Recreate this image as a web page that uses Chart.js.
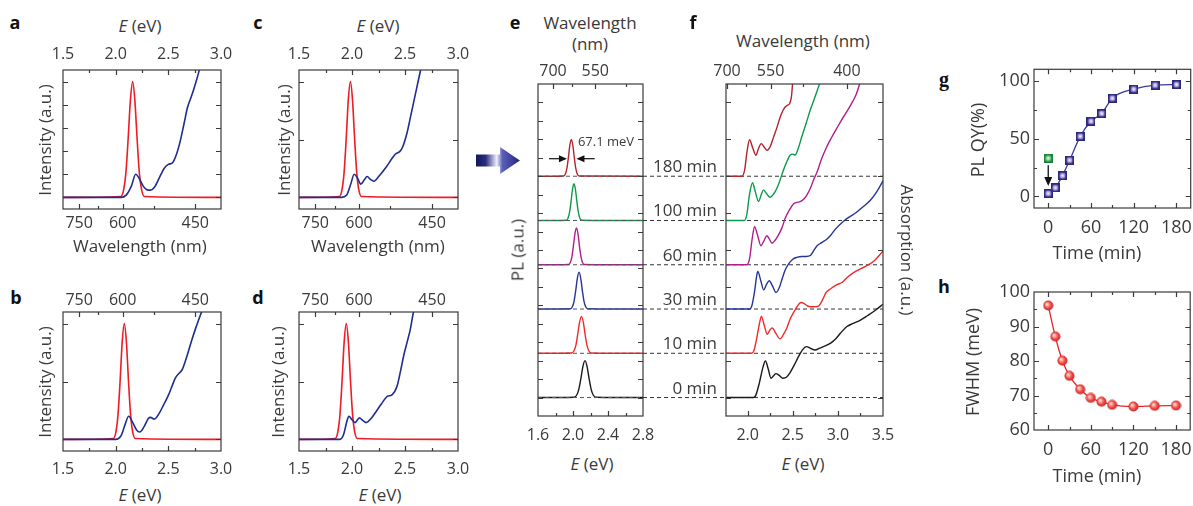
<!DOCTYPE html>
<html>
<head>
<meta charset="utf-8">
<title>PL and absorption spectra</title>
<script src="https://cdn.jsdelivr.net/npm/chart.js@4.4.1/dist/chart.umd.min.js"></script>
<style>
  html, body { margin: 0; padding: 0; background: #fff; }
  body { position: relative; width: 1193px; height: 506px; overflow: hidden;
         font-family: 'Open Sans', 'DejaVu Sans', sans-serif; color: #3a3a3a; }
  canvas { position: absolute; }
  .lbl { position: absolute; white-space: nowrap; line-height: 1; z-index: 2; }
  .vrl { writing-mode: vertical-rl; }
  #deco { position: absolute; left: 0; top: 0; }
</style>
</head>
<body>
<svg id="deco" width="1193" height="506">
  <defs>
    <linearGradient id="bigArrow" x1="0" x2="1" y1="0" y2="0">
      <stop offset="0" stop-color="#15165a"/>
      <stop offset="0.22" stop-color="#2a2c80"/>
      <stop offset="0.47" stop-color="#eef0fb"/>
      <stop offset="0.6" stop-color="#5a5fb8"/>
      <stop offset="1" stop-color="#23267f"/>
    </linearGradient>
  </defs>
  <polygon points="476,154.5 500,154.5 500,147 520,160.5 500,174 500,166.5 476,166.5" fill="url(#bigArrow)"/>
</svg>
<script>
// ====== DATA ======
// panels a-d: energy axis, wavelength axis, intensity ticks
const E_MAJOR = [1.5, 2.0, 2.5, 3.0];
const E_MINOR = [1.75, 2.25, 2.75];
const WL_MAJOR = [750, 600, 450];
const WL_MINOR = [675, 525];
const INT_TICKS_A = [0, 0.2, 0.4, 0.6, 0.8, 1.0];
const INT_TICKS = [0, 0.5, 1.0];

// normalised PL line shape shared by a-d
const PL_NORM = [0, 0.008, 0.063, 0.21, 0.5, 0.84, 1, 0.84, 0.5, 0.21, 0.063, 0.008, 0];
const A_PL_E = [1.5, 2.049, 2.075, 2.097, 2.118, 2.14, 2.161, 2.182, 2.204, 2.225, 2.247, 2.273, 3.0];
const B_PL_E = [1.5, 1.978, 2.002, 2.022, 2.042, 2.062, 2.082, 2.102, 2.122, 2.142, 2.162, 2.186, 3.0];
const C_PL_E = [1.5, 1.881, 1.905, 1.925, 1.945, 1.965, 1.985, 2.005, 2.025, 2.045, 2.065, 2.089, 3.0];
const D_PL_E = [1.5, 1.842, 1.866, 1.886, 1.906, 1.926, 1.946, 1.966, 1.986, 2.006, 2.026, 2.05, 3.0];

const A_ABS_E = [1.5, 2.05, 2.1, 2.15, 2.19, 2.22, 2.26, 2.3, 2.33, 2.37, 2.42, 2.46, 2.5, 2.54, 2.58, 2.614, 2.65, 2.68, 2.71, 2.74, 2.77, 2.8];
const A_ABS_Y = [0, 0, 0.02, 0.1, 0.2, 0.17, 0.1, 0.065, 0.063, 0.09, 0.18, 0.25, 0.285, 0.3, 0.38, 0.49, 0.64, 0.77, 0.85, 0.93, 1.02, 1.12];
const B_ABS_E = [1.5, 2.0, 2.05, 2.09, 2.123, 2.16, 2.2, 2.228, 2.27, 2.31, 2.33, 2.367, 2.41, 2.456, 2.5, 2.535, 2.566, 2.6, 2.63, 2.677, 2.72, 2.756, 2.82, 2.85];
const B_ABS_Y = [0, 0, 0.03, 0.13, 0.2, 0.15, 0.08, 0.064, 0.11, 0.18, 0.19, 0.175, 0.22, 0.3, 0.38, 0.46, 0.53, 0.57, 0.6, 0.72, 0.85, 0.95, 1.11, 1.17];
const C_ABS_E = [1.5, 1.9, 1.95, 1.99, 2.02, 2.05, 2.083, 2.115, 2.143, 2.175, 2.206, 2.26, 2.325, 2.38, 2.41, 2.45, 2.48, 2.52, 2.546, 2.593, 2.64, 2.66];
const C_ABS_Y = [0, 0, 0.02, 0.12, 0.2, 0.17, 0.115, 0.15, 0.18, 0.155, 0.14, 0.19, 0.265, 0.34, 0.375, 0.395, 0.44, 0.56, 0.67, 0.87, 1.07, 1.15];
const D_ABS_E = [1.5, 1.886, 1.92, 1.95, 1.97, 2.0, 2.028, 2.07, 2.1, 2.133, 2.18, 2.234, 2.28, 2.33, 2.377, 2.424, 2.46, 2.487, 2.52, 2.55, 2.58, 2.6];
const D_ABS_Y = [0, 0, 0.04, 0.15, 0.2, 0.17, 0.145, 0.186, 0.165, 0.145, 0.18, 0.25, 0.31, 0.37, 0.385, 0.456, 0.6, 0.72, 0.84, 0.95, 1.1, 1.16];

// panels e-f: time series, stacked with offsets
const TIME_LABELS = ['0 min', '10 min', '30 min', '60 min', '100 min', '180 min'];
const OFFSETS = [0, 2.4, 4.8, 7.2, 9.6, 12];
const TIME_COLORS = ['#1a1a1a', '#ee2a2a', '#25359a', '#b01e8e', '#0c9a4a', '#b3242b'];

const E_E_MAJOR = [1.6, 2.0, 2.4, 2.8];
const E_E_MINOR = [1.8, 2.2, 2.6];
const E_WL_MAJOR = [700, 550];
const E_WL_MINOR = [625, 475];
const E_Y_TICKS = [0, 1, 2, 3, 4, 5, 6, 7, 8, 9, 10, 11, 12, 13, 14, 15, 16];

const PL_SHAPE = [0, 0.016, 0.125, 0.42, 1.0, 1.68, 2.0, 1.68, 1.0, 0.42, 0.125, 0.016, 0];
const PL_E_0   = [1.6, 2.012, 2.041, 2.065, 2.089, 2.113, 2.137, 2.161, 2.185, 2.209, 2.233, 2.262, 2.8];
const PL_E_10  = [1.6, 1.984, 2.01, 2.032, 2.053, 2.075, 2.096, 2.118, 2.139, 2.161, 2.182, 2.208, 2.8];
const PL_E_30  = [1.6, 1.97, 1.993, 2.012, 2.031, 2.05, 2.069, 2.088, 2.107, 2.126, 2.145, 2.168, 2.8];
const PL_E_60  = [1.6, 1.948, 1.969, 1.987, 2.004, 2.022, 2.039, 2.057, 2.074, 2.092, 2.109, 2.13, 2.8];
const PL_E_100 = [1.6, 1.923, 1.943, 1.96, 1.977, 1.994, 2.011, 2.028, 2.045, 2.062, 2.079, 2.099, 2.8];
const PL_E_180 = [1.6, 1.893, 1.913, 1.93, 1.947, 1.964, 1.981, 1.998, 2.015, 2.032, 2.049, 2.069, 2.8];
const FWHM_Y = 12.95;
const FWHM_ARROWS = [[1.726, 1.931], [2.248, 2.039]];

const F_E_MAJOR = [2.0, 2.5, 3.0, 3.5];
const F_E_MINOR = [2.25, 2.75, 3.25];
const F_WL_MAJOR = [700, 550, 400];
const F_WL_MINOR = [625, 475];
const F_Y_TICKS = [0, 2, 4, 6, 8, 10, 12, 14, 16];

const ABS_E_0 = [1.76, 2.065, 2.09, 2.13, 2.17, 2.197, 2.228, 2.258, 2.29, 2.313, 2.35, 2.39, 2.43, 2.47, 2.52, 2.563, 2.61, 2.65, 2.7, 2.745, 2.8, 2.86, 2.92, 2.98, 3.03, 3.1, 3.17, 3.25, 3.33, 3.42, 3.5];
const ABS_Y_0 = [0, 0, 0.12, 0.8, 1.65, 1.98, 1.55, 1.05, 1.2, 1.3, 1.2, 1.05, 1.1, 1.35, 1.8, 2.22, 2.6, 2.76, 2.66, 2.58, 2.68, 2.8, 2.95, 3.2, 3.5, 3.85, 4.02, 4.2, 4.45, 4.75, 5.06];
const ABS_E_10 = [1.76, 2.045, 2.07, 2.1, 2.13, 2.152, 2.185, 2.217, 2.245, 2.272, 2.31, 2.36, 2.4, 2.435, 2.47, 2.508, 2.55, 2.59, 2.63, 2.67, 2.73, 2.785, 2.83, 2.87, 2.92, 2.99, 3.05, 3.1, 3.2, 3.3, 3.4, 3.5];
const ABS_Y_10 = [0, 0, 0.15, 0.8, 1.6, 2.0, 1.5, 1.03, 1.25, 1.38, 1.1, 0.78, 1.05, 1.39, 1.85, 2.2, 2.55, 2.75, 2.68, 2.55, 2.52, 2.56, 2.9, 3.3, 3.5, 3.72, 3.85, 4.1, 4.45, 4.7, 5.0, 5.55];
const ABS_E_30 = [1.76, 2.02, 2.045, 2.075, 2.1, 2.112, 2.145, 2.178, 2.21, 2.24, 2.275, 2.316, 2.35, 2.38, 2.415, 2.452, 2.5, 2.545, 2.6, 2.65, 2.695, 2.73, 2.767, 2.82, 2.877, 2.92, 2.97, 3.06, 3.13, 3.2, 3.28, 3.36, 3.43, 3.5];
const ABS_Y_30 = [0, 0, 0.15, 0.9, 1.8, 2.04, 1.55, 1.04, 1.35, 1.53, 1.25, 0.9, 1.15, 1.6, 2.1, 2.43, 2.7, 2.8, 2.85, 2.85, 2.9, 3.15, 3.42, 3.6, 3.78, 4.0, 4.32, 4.75, 5.0, 5.22, 5.55, 5.9, 6.35, 6.95];
const ABS_E_60 = [1.76, 1.99, 2.02, 2.05, 2.076, 2.11, 2.147, 2.18, 2.213, 2.24, 2.269, 2.3, 2.342, 2.38, 2.416, 2.46, 2.508, 2.545, 2.582, 2.62, 2.656, 2.7, 2.73, 2.767, 2.82, 2.877, 2.93, 2.988, 3.06, 3.135, 3.2, 3.26];
const ABS_Y_60 = [0, 0, 0.3, 1.4, 2.07, 1.6, 1.03, 1.3, 1.57, 1.4, 1.17, 1.3, 1.62, 2.0, 2.52, 2.95, 3.3, 3.38, 3.42, 3.55, 3.78, 4.2, 4.6, 5.0, 5.75, 6.4, 6.9, 7.4, 8.0, 8.6, 9.2, 10.1];
const ABS_E_100 = [1.76, 1.962, 1.99, 2.02, 2.054, 2.085, 2.121, 2.15, 2.176, 2.21, 2.25, 2.29, 2.324, 2.36, 2.397, 2.44, 2.471, 2.5, 2.527, 2.56, 2.6, 2.65, 2.693, 2.75, 2.803, 2.82];
const ABS_Y_100 = [0, 0, 0.3, 1.4, 2.05, 1.55, 1.03, 1.4, 1.66, 1.45, 1.26, 1.45, 1.75, 2.2, 2.74, 3.25, 3.55, 3.6, 3.55, 3.9, 4.54, 5.3, 5.98, 6.75, 7.5, 7.75];
const ABS_E_180 = [1.76, 1.937, 1.965, 1.995, 2.021, 2.055, 2.092, 2.12, 2.15, 2.18, 2.213, 2.25, 2.287, 2.325, 2.36, 2.39, 2.416, 2.44, 2.464, 2.485, 2.5, 2.52];
const ABS_Y_180 = [0, 0, 0.3, 1.4, 1.98, 1.55, 1.14, 1.5, 1.77, 1.6, 1.41, 1.6, 2.12, 2.65, 3.2, 3.55, 3.75, 3.85, 3.93, 4.3, 5.1, 5.6];

const PL_E_ALL = [PL_E_0, PL_E_10, PL_E_30, PL_E_60, PL_E_100, PL_E_180];
const ABS_E_ALL = [ABS_E_0, ABS_E_10, ABS_E_30, ABS_E_60, ABS_E_100, ABS_E_180];
const ABS_Y_ALL = [ABS_Y_0, ABS_Y_10, ABS_Y_30, ABS_Y_60, ABS_Y_100, ABS_Y_180];

// panels g-h: time evolution
const T_MAJOR = [0, 60, 120, 180];
const T_MINOR = [30, 90, 150];
const G_Y_MAJOR = [0, 50, 100];
const G_Y_MINOR = [25, 75];
const H_Y_MAJOR = [60, 70, 80, 90, 100];
const H_Y_MINOR = [65, 75, 85, 95];
const TIME = [0, 10, 20, 30, 45, 60, 75, 90, 120, 150, 180];
const PLQY = [2.6, 7.5, 18, 31.4, 52, 65, 71.8, 85, 92.8, 96.3, 96.8];
const PLQY_INITIAL = [33];
const FWHM = [96.1, 87.1, 80.1, 75.7, 71.8, 69.3, 68.2, 67.3, 66.8, 67.0, 67.1];
const G_ARROW = [0, 27, 9];

// ====== HELPERS ======
const INK = '#3a3a3a';
const FONT = "'Open Sans', 'DejaVu Sans', sans-serif";
const RED = '#ee1c25', NAVY = '#1e2d8e';
const toE = w => 1239.84 / w;
const wlFmt = v => String(Math.round(1239.84 / v));
const e1 = v => v.toFixed(1);
const intFmt = v => String(Math.round(v));

function ticksOf(major, minor) {
  return major.map(v => ({value: v}))
    .concat((minor || []).map(v => ({value: v, minor: true})))
    .sort((p, q) => p.value - q.value);
}

function axis(pos, min, max, ticks, o) {
  o = o || {};
  const horiz = pos === 'top' || pos === 'bottom';
  return {
    type: 'linear', position: pos, min, max, bounds: 'data',
    grid: {display: false, drawTicks: false}, border: {display: false},
    ticks: {
      display: !!o.fmt, autoSkip: false, maxRotation: 0, minRotation: 0,
      padding: o.pad || 0, color: INK,
      font: {family: FONT, size: o.size || 16},
      callback: (v, i, ts) => (o.fmt && !ts[i].minor) ? o.fmt(ts[i].value) : ''
    },
    afterBuildTicks: s => { s.ticks = ticks.map(t => Object.assign({}, t)); },
    afterFit: s => {
      if (horiz) s.height = o.fit; else s.width = o.fit;
      s.paddingLeft = s.paddingRight = s.paddingTop = s.paddingBottom = 0;
    }
  };
}

function curve(E, Y, color, off, w) {
  return {
    data: E.map((x, i) => ({x, y: Y[i] + (off || 0)})),
    borderColor: color, borderWidth: w || 1.5, pointRadius: 0, fill: false,
    cubicInterpolationMode: 'monotone', borderJoinStyle: 'round', order: 0
  };
}

function dashed(x0, x1, y, order, color) {
  return {
    data: [{x: x0, y}, {x: x1, y}], borderColor: color || '#333', borderWidth: 1,
    borderDash: [4, 3], pointRadius: 0, fill: false, order
  };
}

function frame(mirrorX, mirrorY) {
  return {
    id: 'frame',
    afterDatasetsDraw(chart) {
      const {ctx, chartArea: a} = chart;
      ctx.save();
      ctx.strokeStyle = INK; ctx.lineWidth = 1.2;
      ctx.strokeRect(a.left, a.top, a.right - a.left, a.bottom - a.top);
      ctx.beginPath();
      Object.values(chart.scales).forEach(s => {
        s.ticks.forEach(t => {
          const p = Math.round(s.getPixelForValue(t.value)) + 0.5;
          const len = t.minor ? 3 : 5;
          if (s.isHorizontal()) {
            if (p <= a.left + 1 || p >= a.right - 1) return;
            if (s.position === 'top' || mirrorX) { ctx.moveTo(p, a.top); ctx.lineTo(p, a.top + len); }
            if (s.position === 'bottom') { ctx.moveTo(p, a.bottom); ctx.lineTo(p, a.bottom - len); }
          } else {
            if (p <= a.top + 1 || p >= a.bottom - 1) return;
            ctx.moveTo(a.left, p); ctx.lineTo(a.left + len, p);
            if (mirrorY) { ctx.moveTo(a.right, p); ctx.lineTo(a.right - len, p); }
          }
        });
      });
      ctx.stroke();
      ctx.restore();
    }
  };
}

function makePanel(box, m, scales, datasets, extra) {
  const cv = document.createElement('canvas');
  const W = box.r - box.l + m.l + m.r, H = box.b - box.t + m.t + m.b;
  cv.width = W; cv.height = H;
  cv.style.left = (box.l - m.l) + 'px'; cv.style.top = (box.t - m.t) + 'px';
  cv.style.width = W + 'px'; cv.style.height = H + 'px';
  document.body.appendChild(cv);
  const chart = new Chart(cv, {
    type: 'line',
    data: {datasets},
    options: {
      responsive: false, animation: false, devicePixelRatio: 1, events: [],
      layout: {padding: m.pad || 0},
      plugins: {legend: {display: false}, tooltip: {enabled: false}},
      scales
    },
    plugins: [frame(m.mirrorX, m.mirrorY)].concat(extra || [])
  });
  chart.canvasTop = box.t - m.t;
  return chart;
}

function txt(html, x, y, o) {
  o = o || {};
  const d = document.createElement('div');
  d.className = 'lbl' + (o.vertical ? ' vrl' : '');
  d.innerHTML = html;
  d.style.left = x + 'px'; d.style.top = y + 'px';
  d.style.fontSize = (o.size || 17) + 'px';
  if (o.bold) { d.style.fontWeight = 'bold'; d.style.color = '#111'; }
  if (o.family) d.style.fontFamily = o.family;
  const ax = o.align === 'right' ? '-100%' : '-50%';
  d.style.transform = 'translate(' + ax + ',-50%)' + (o.rot ? ' rotate(' + o.rot + 'deg)' : '');
  document.body.appendChild(d);
}

function markerImg(edge, mid, light, round) {
  const c = document.createElement('canvas');
  c.width = c.height = round ? 11 : 9;
  const x = c.getContext('2d');
  const r = c.width / 2;
  const g = x.createRadialGradient(r - (round ? 1.5 : 0), r - (round ? 1.5 : 0), 0.3, r, r, r);
  g.addColorStop(0, light); g.addColorStop(0.55, mid); g.addColorStop(1, edge);
  if (round) {
    x.fillStyle = g; x.beginPath(); x.arc(r, r, r - 0.5, 0, Math.PI * 2); x.fill();
  } else {
    x.fillStyle = edge; x.fillRect(0, 0, 9, 9);
    x.fillStyle = g; x.fillRect(1.5, 1.5, 6, 6);
  }
  return c;
}

// ====== PANELS a-d ======
const eTicks = ticksOf(E_MAJOR, E_MINOR);
const wlTicks = ticksOf(WL_MAJOR.map(toE), WL_MINOR.map(toE));

function spectrumPanel(box, eOnTop, plE, absE, absY, yTicks) {
  const m = {t: eOnTop ? 26 : 22, b: eOnTop ? 26 : 30, l: 18, r: 16, mirrorY: true, pad: {right: 16}};
  const topTicks = eOnTop ? eTicks : wlTicks, botTicks = eOnTop ? wlTicks : eTicks;
  const topFmt = eOnTop ? e1 : wlFmt, botFmt = eOnTop ? wlFmt : e1;
  return makePanel(box, m, {
    x: axis('bottom', 1.5, 3.0, botTicks, {fmt: botFmt, pad: eOnTop ? 5 : 9, fit: m.b}),
    x2: axis('top', 1.5, 3.0, topTicks, {fmt: topFmt, pad: eOnTop ? 6 : 2, fit: m.t}),
    y: axis('left', -0.1, 1.1, yTicks.map(v => ({value: v})), {fit: m.l})
  }, [
    curve(absE, absY, NAVY, 0, 1.6),
    curve(plE, PL_NORM, RED, 0, 1.6)
  ]);
}

spectrumPanel({l: 63, t: 70, r: 221, b: 209}, true, A_PL_E, A_ABS_E, A_ABS_Y, INT_TICKS_A);
spectrumPanel({l: 299, t: 70, r: 458, b: 209}, true, C_PL_E, C_ABS_E, C_ABS_Y, INT_TICKS);
spectrumPanel({l: 63, t: 312, r: 221, b: 451}, false, B_PL_E, B_ABS_E, B_ABS_Y, INT_TICKS);
spectrumPanel({l: 299, t: 312, r: 458, b: 451}, false, D_PL_E, D_ABS_E, D_ABS_Y, INT_TICKS);

// ====== PANEL e ======
const eNotes = {
  id: 'eNotes',
  afterDatasetsDraw(chart) {
    const {ctx, scales: {x, y}} = chart;
    const py = y.getPixelForValue(FWHM_Y);
    ctx.save(); ctx.strokeStyle = '#111'; ctx.fillStyle = '#111'; ctx.lineWidth = 1.2;
    FWHM_ARROWS.forEach(([from, to]) => {
      const x0 = x.getPixelForValue(from), x1 = x.getPixelForValue(to);
      const dir = Math.sign(x1 - x0);
      ctx.beginPath(); ctx.moveTo(x0, py); ctx.lineTo(x1 - dir * 6, py); ctx.stroke();
      ctx.beginPath(); ctx.moveTo(x1, py); ctx.lineTo(x1 - dir * 8, py - 3.5);
      ctx.lineTo(x1 - dir * 8, py + 3.5); ctx.closePath(); ctx.fill();
    });
    ctx.restore();
  }
};

const eBox = {l: 538, t: 84, r: 643, b: 416};
const eM = {t: 23, b: 30, l: 18, r: 14, mirrorY: true, pad: {right: 14}};
const eSets = [];
OFFSETS.forEach((off, i) => {
  eSets.push(curve(PL_E_ALL[i], PL_SHAPE, TIME_COLORS[i], off, 1.4));
  eSets.push(dashed(1.6, 2.8, off, -1, '#555'));
});
makePanel(eBox, eM, {
  x: axis('bottom', 1.6, 2.8, ticksOf(E_E_MAJOR, E_E_MINOR), {fmt: e1, pad: 10, fit: eM.b}),
  x2: axis('top', 1.6, 2.8, ticksOf(E_WL_MAJOR.map(toE), E_WL_MINOR.map(toE)), {fmt: wlFmt, pad: 3, fit: eM.t}),
  y: axis('left', -1, 17, E_Y_TICKS.map(v => ({value: v})), {fit: eM.l})
}, eSets, [eNotes]);

// ====== PANEL f ======
const fBox = {l: 726, t: 84, r: 883, b: 416};
const fM = {t: 23, b: 30, l: 18, r: 18, mirrorY: true, pad: {right: 18}};
const fSets = [];
OFFSETS.forEach((off, i) => {
  fSets.push(curve(ABS_E_ALL[i], ABS_Y_ALL[i], TIME_COLORS[i], off, 1.4));
  fSets.push(dashed(1.76, 3.5, off, 1, '#333'));
});
const fChart = makePanel(fBox, fM, {
  x: axis('bottom', 1.76, 3.5, ticksOf(F_E_MAJOR, F_E_MINOR), {fmt: e1, pad: 10, fit: fM.b}),
  x2: axis('top', 1.76, 3.5, ticksOf(F_WL_MAJOR.map(toE), F_WL_MINOR.map(toE)), {fmt: wlFmt, pad: 3, fit: fM.t}),
  y: axis('left', -1, 17, F_Y_TICKS.map(v => ({value: v})), {fit: fM.l})
}, fSets);

// dashed guides between e and f, with time labels
const svg = document.getElementById('deco');
OFFSETS.forEach((off, i) => {
  const y = fChart.scales.y.getPixelForValue(off) + fChart.canvasTop;
  const ln = document.createElementNS('http://www.w3.org/2000/svg', 'line');
  ln.setAttribute('x1', eBox.r); ln.setAttribute('x2', fBox.l);
  ln.setAttribute('y1', y); ln.setAttribute('y2', y);
  ln.setAttribute('stroke', '#333'); ln.setAttribute('stroke-width', '1');
  ln.setAttribute('stroke-dasharray', '4 3');
  svg.appendChild(ln);
  txt(TIME_LABELS[i], 717, y - 11, {align: 'right', size: 17});
});

// ====== PANELS g-h ======
const tTicks = ticksOf(T_MAJOR, T_MINOR);
const gArrow = {
  id: 'gArrow',
  beforeDatasetsDraw(chart) {
    const {ctx, scales: {x, y}} = chart;
    const px = x.getPixelForValue(G_ARROW[0]);
    const y0 = y.getPixelForValue(G_ARROW[1]), y1 = y.getPixelForValue(G_ARROW[2]);
    ctx.save(); ctx.strokeStyle = '#111'; ctx.fillStyle = '#111'; ctx.lineWidth = 1.3;
    ctx.beginPath(); ctx.moveTo(px, y0); ctx.lineTo(px, y1 - 6); ctx.stroke();
    ctx.beginPath(); ctx.moveTo(px, y1); ctx.lineTo(px - 4, y1 - 9); ctx.lineTo(px + 4, y1 - 9);
    ctx.closePath(); ctx.fill();
    ctx.restore();
  }
};

const gBox = {l: 1034, t: 69, r: 1191, b: 208};
const gM = {t: 6, b: 34, l: 50, r: 6, mirrorX: true, mirrorY: true, pad: {top: 6, right: 6}};
makePanel(gBox, gM, {
  x: axis('bottom', -20, 200, tTicks, {fmt: intFmt, pad: 9, size: 18, fit: gM.b}),
  y: axis('left', -10, 110, ticksOf(G_Y_MAJOR, G_Y_MINOR), {fmt: intFmt, pad: 4, size: 18, fit: gM.l})
}, [
  {data: TIME.map((t, i) => ({x: t, y: PLQY[i]})), borderColor: '#3b3b9c', borderWidth: 1.3,
   cubicInterpolationMode: 'monotone', pointStyle: markerImg('#2b2878', '#8f83cf', '#f4efff', false),
   pointRadius: 5, fill: false},
  {data: PLQY_INITIAL.map(v => ({x: TIME[0], y: v})), showLine: false,
   pointStyle: markerImg('#17843a', '#5fc27a', '#e6fbe8', false), pointRadius: 5}
], [gArrow]);

const hBox = {l: 1034, t: 292, r: 1191, b: 430};
const hM = {t: 8, b: 34, l: 50, r: 6, mirrorX: true, mirrorY: true, pad: {top: 8, right: 6}};
makePanel(hBox, hM, {
  x: axis('bottom', -20, 200, tTicks, {fmt: intFmt, pad: 9, size: 18, fit: hM.b}),
  y: axis('left', 60, 100, ticksOf(H_Y_MAJOR, H_Y_MINOR), {fmt: intFmt, pad: 4, size: 18, fit: hM.l})
}, [
  {data: TIME.map((t, i) => ({x: t, y: FWHM[i]})), borderColor: '#e8262a', borderWidth: 1.3,
   cubicInterpolationMode: 'monotone', pointStyle: markerImg('#c8161a', '#f0504a', '#ffe6df', true),
   pointRadius: 5.5, fill: false}
]);

// ====== TEXT ======
const EEV = '<i>E</i> (eV)';
[['a', 15, 22], ['c', 258, 22], ['e', 515, 22], ['f', 693, 22], ['b', 16, 297], ['d', 258, 297], ['h', 944, 286]]
  .forEach(([s, x, y]) => txt(s, x, y, {bold: true, size: 18}));
txt('g', 944, 79, {bold: true, size: 20, family: "'Liberation Serif', serif"});

txt(EEV, 140, 25); txt('Wavelength (nm)', 140, 245); txt('Intensity (a.u.)', 44, 140, {rot: -90});
txt(EEV, 378, 25); txt('Wavelength (nm)', 378, 245); txt('Intensity (a.u.)', 283, 140, {rot: -90});
txt('Intensity (a.u.)', 44, 382, {rot: -90}); txt(EEV, 140, 494);
txt('Intensity (a.u.)', 277, 382, {rot: -90}); txt(EEV, 380, 494);
txt('Wavelength', 590, 22); txt('(nm)', 590, 43); txt('PL (a.u.)', 517, 250, {rot: -90}); txt(EEV, 592, 463);
txt('67.1 meV', 606, 141, {size: 13});
txt('Wavelength (nm)', 803, 40); txt('Absorption (a.u.)', 907, 250, {vertical: true}); txt(EEV, 803, 463);
txt('PL QY(%)', 977, 140, {rot: -90, size: 18}); txt('Time (min)', 1097, 252, {size: 18});
txt('FWHM (meV)', 972, 362, {rot: -90, size: 18}); txt('Time (min)', 1097, 475, {size: 18});
</script>
</body>
</html>
